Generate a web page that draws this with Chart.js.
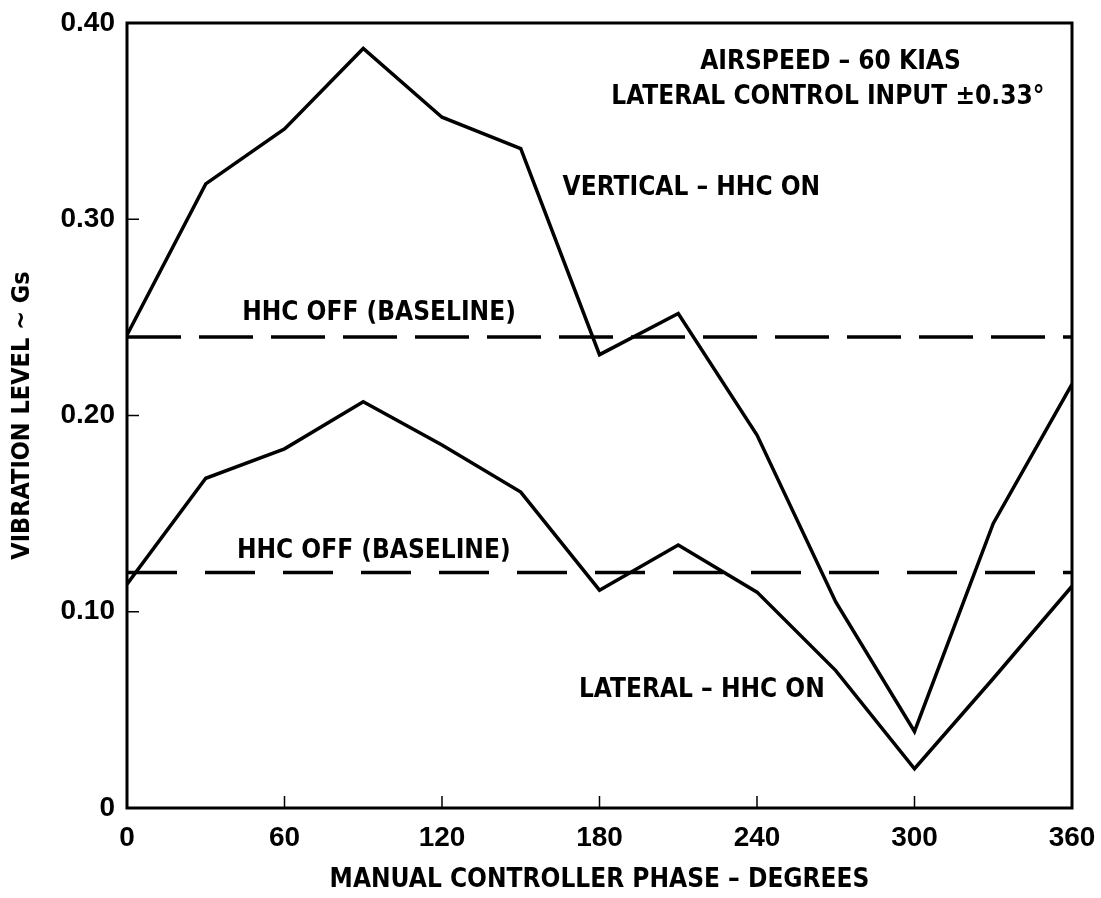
<!DOCTYPE html>
<html>
<head>
<meta charset="utf-8">
<script src="https://cdn.jsdelivr.net/npm/chart.js@4.4.1/dist/chart.umd.min.js"></script>
<style>
  html, body { margin: 0; padding: 0; background: #fff; }
  canvas { display: block; }
</style>
</head>
<body>
<canvas id="vibration" width="1101" height="898"></canvas>
<script>
// manual controller phase, degrees
const phase = [0, 30, 60, 90, 120, 150, 180, 210, 240, 270, 300, 330, 360];
// vibration level, Gs
const verticalHhcOn = [0.241, 0.318, 0.346, 0.387, 0.352, 0.336, 0.231, 0.252, 0.190, 0.105, 0.039, 0.145, 0.216];
const lateralHhcOn = [0.114, 0.168, 0.183, 0.207, 0.185, 0.161, 0.111, 0.134, 0.110, 0.070, 0.020, 0.066, 0.113];
const verticalBaseline = 0.24;
const lateralBaseline = 0.12;

const xTicks = [0, 60, 120, 180, 240, 300, 360];
const yTicks = [0, 0.1, 0.2, 0.3, 0.4];

const FONT = "'DejaVu Sans Condensed', 'DejaVu Sans', sans-serif";
const NUM_FONT = "'Liberation Sans', Arial, sans-serif";

const notes = [
    { text: 'AIRSPEED \u2013 60 KIAS', x: 268, y: 0.380 },
    { text: 'LATERAL CONTROL INPUT \u00b10.33\u00b0', x: 267, y: 0.362 },
    { text: 'VERTICAL \u2013 HHC ON', x: 215, y: 0.316 },
    { text: 'HHC OFF (BASELINE)', x: 96, y: 0.252 },
    { text: 'HHC OFF (BASELINE)', x: 94, y: 0.131 },
    { text: 'LATERAL \u2013 HHC ON', x: 219, y: 0.060 },
];

const toPoints = (xs, ys) => xs.map((x, i) => ({ x: x, y: ys[i] }));
const flat = v => [{ x: phase[0], y: v }, { x: phase[phase.length - 1], y: v }];

// frame, inward tick marks and the text notes
const frame = {
    id: 'frame',
    afterDraw(chart) {
        const { ctx, chartArea: a, scales } = chart;
        ctx.save();
        ctx.strokeStyle = '#000';
        ctx.lineWidth = 3;
        ctx.strokeRect(a.left, a.top, a.right - a.left, a.bottom - a.top);
        ctx.lineWidth = 1.5;
        ctx.beginPath();
        xTicks.slice(1, -1).forEach(v => {
            const px = scales.x.getPixelForValue(v);
            ctx.moveTo(px, a.bottom);
            ctx.lineTo(px, a.bottom - 12);
        });
        yTicks.slice(1, -1).forEach(v => {
            const py = scales.y.getPixelForValue(v);
            ctx.moveTo(a.left, py);
            ctx.lineTo(a.left + 12, py);
        });
        ctx.stroke();
        ctx.fillStyle = '#000';
        ctx.font = 'bold 26px ' + FONT;
        ctx.textAlign = 'center';
        ctx.textBaseline = 'middle';
        notes.forEach(n => {
            ctx.fillText(n.text, scales.x.getPixelForValue(n.x), scales.y.getPixelForValue(n.y));
        });
        ctx.restore();
    }
};

const lineStyle = { borderColor: '#000', borderWidth: 3.5, pointRadius: 0, tension: 0, fill: false };

new Chart(document.getElementById('vibration'), {
    type: 'line',
    data: {
        datasets: [
            Object.assign({ label: 'Vertical - HHC on', data: toPoints(phase, verticalHhcOn) }, lineStyle),
            Object.assign({ label: 'Lateral - HHC on', data: toPoints(phase, lateralHhcOn) }, lineStyle),
            Object.assign({ label: 'HHC off (baseline)', data: flat(verticalBaseline), borderDash: [54, 18] }, lineStyle),
            Object.assign({ label: 'HHC off (baseline)', data: flat(lateralBaseline), borderDash: [50, 28] }, lineStyle),
        ]
    },
    options: {
        responsive: false,
        animation: false,
        layout: { padding: { left: 0, top: 23, right: 29, bottom: 0 } },
        plugins: { legend: { display: false }, tooltip: { enabled: false } },
        scales: {
            x: {
                type: 'linear',
                min: 0,
                max: 360,
                grid: { display: false },
                border: { display: false },
                afterBuildTicks: s => { s.ticks = xTicks.map(v => ({ value: v })); },
                afterFit: s => { s.height = 90; s.paddingLeft = 0; s.paddingRight = 0; },
                ticks: {
                    color: '#000',
                    padding: 5,
                    maxRotation: 0,
                    font: { family: NUM_FONT, size: 28, weight: 'bold' },
                    callback: v => String(v)
                },
                title: {
                    display: true,
                    text: 'MANUAL CONTROLLER PHASE \u2013 DEGREES',
                    color: '#000',
                    padding: { top: 0, bottom: 5 },
                    font: { family: FONT, size: 26, weight: 'bold', lineHeight: 1 }
                }
            },
            y: {
                min: 0,
                max: 0.4,
                grid: { display: false },
                border: { display: false },
                afterBuildTicks: s => { s.ticks = yTicks.map(v => ({ value: v })); },
                afterFit: s => { s.width = 127; s.paddingTop = 0; s.paddingBottom = 0; },
                ticks: {
                    color: '#000',
                    padding: 4,
                    font: { family: NUM_FONT, size: 28, weight: 'bold' },
                    callback: v => v === 0 ? '0' : v.toFixed(2)
                },
                title: {
                    display: true,
                    text: 'VIBRATION LEVEL ~ Gs',
                    color: '#000',
                    padding: { top: 10, bottom: 0 },
                    font: { family: FONT, size: 25, weight: 'bold', lineHeight: 1 }
                }
            }
        }
    },
    plugins: [frame]
});
</script>
</body>
</html>
